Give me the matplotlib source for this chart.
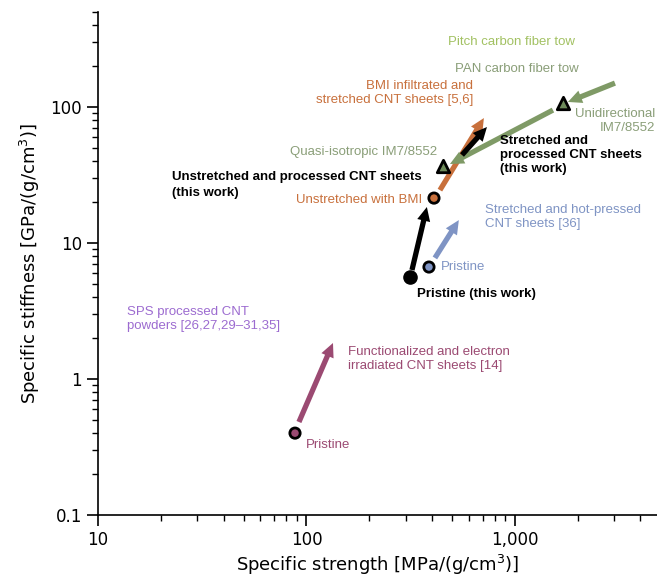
import matplotlib
matplotlib.use("Agg")
import matplotlib.pyplot as plt
from matplotlib.patches import FancyArrowPatch
from matplotlib.ticker import FuncFormatter, LogLocator, NullFormatter

# ---- data ----
# circles (pristine / start points)
circ_x = [313.6, 408.8, 386.8, 88.1]
circ_y = [5.62, 21.4, 6.66, 0.40]
circ_colors = ["#000000", "#C8703C", "#7F94C4", "#9B4A72"]

# triangles (IM7/8552 laminates)
tri_x = [1698, 451.6]
tri_y = [107, 36.8]

# arrows
arrow_x0 = [320.6, 436.5, 557, 413, 3017, 1521, 92]
arrow_y0 = [6.33, 24.5, 44.4, 7.77, 150, 95, 0.483]
arrow_x1 = [378, 709.5, 734, 538, 1795, 487.6, 134]
arrow_y1 = [18.4, 83, 71.3, 14.75, 109, 38.1, 1.84]
arrow_colors = ["#000000", "#C8703C", "#000000", "#7F94C4", "#7F9A66", "#7F9A66", "#9B4A72"]
arrow_order = [1, 0, 2, 0, 0, 0, 0]

fig = plt.figure(figsize=(6.57, 5.81), dpi=100)
ax = fig.add_axes([98/657, 66/581, 559/657, 503/581])
ax.set_xscale("log")
ax.set_yscale("log")
ax.set_xlim(10, 4800)
ax.set_ylim(0.1, 500)

for s in ["top", "right"]:
    ax.spines[s].set_visible(False)
for s in ["left", "bottom"]:
    ax.spines[s].set_linewidth(1.2)

ax.xaxis.set_major_locator(LogLocator(base=10, numticks=10))
ax.yaxis.set_major_locator(LogLocator(base=10, numticks=10))
ax.xaxis.set_minor_locator(LogLocator(base=10, subs=range(2, 10), numticks=20))
ax.yaxis.set_minor_locator(LogLocator(base=10, subs=range(2, 10), numticks=20))
ax.xaxis.set_minor_formatter(NullFormatter())
ax.yaxis.set_minor_formatter(NullFormatter())
ax.xaxis.set_major_formatter(FuncFormatter(lambda v, p: f"{v:,.0f}"))
ax.yaxis.set_major_formatter(FuncFormatter(lambda v, p: ("%g" % v)))
ax.tick_params(which="major", length=8, width=1.2, labelsize=12, direction="out")
ax.tick_params(which="minor", length=4, width=1.0, direction="out")

ax.set_xlabel("Specific strength [MPa/(g/cm$^3$)]", fontsize=13, labelpad=3)
ax.set_ylabel("Specific stiffness [GPa/(g/cm$^3$)]", fontsize=13, labelpad=6)

# arrows
for x0, y0, x1, y1, c, o in zip(arrow_x0, arrow_y0, arrow_x1, arrow_y1, arrow_colors, arrow_order):
    a = FancyArrowPatch((x0, y0), (x1, y1),
                        arrowstyle="simple,head_length=1.0,head_width=0.95,tail_width=0.38",
                        mutation_scale=10, color=c, lw=0, shrinkA=0, shrinkB=0,
                        zorder=3 + o)
    ax.add_patch(a)

# markers
ax.scatter(circ_x[:1], circ_y[:1], s=90, c=circ_colors[:1], edgecolors="black", linewidths=1, zorder=6)
ax.scatter(circ_x[1:], circ_y[1:], s=55, c=circ_colors[1:], edgecolors="black", linewidths=2, zorder=6)
ax.scatter(tri_x, tri_y, s=80, marker="^", c="#6D8B5A", edgecolors="black", linewidths=2, zorder=6)

fam = ["Liberation Sans", "DejaVu Sans"]
fs = 9.5
def t(px, py, s, color, ha="left", bold=False, ls=1.2):
    fig.text(px/657, 1 - py/581, s, color=color, ha=ha, va="center", fontsize=fs,
             family=fam, fontweight="bold" if bold else "normal", linespacing=ls)

t(512, 42, "Pitch carbon fiber tow", "#A2C162", ha="center")
t(517, 69, "PAN carbon fiber tow", "#8A9E78", ha="center")
t(473, 93, "BMI infiltrated and\nstretched CNT sheets [5,6]", "#C8703C", ha="right")
t(655, 121, "Unidirectional\nIM7/8552", "#8A9E78", ha="right")
t(500, 155, "Stretched and\nprocessed CNT sheets\n(this work)", "#000000", bold=True)
t(437, 152, "Quasi-isotropic IM7/8552", "#8A9E78", ha="right")
t(172, 177, "Unstretched and processed CNT sheets", "#000000", bold=True)
t(172, 193, "(this work)", "#000000", bold=True)
t(422, 200, "Unstretched with BMI", "#C8703C", ha="right")
t(485, 217, "Stretched and hot-pressed\nCNT sheets [36]", "#7F94C4")
t(441, 267, "Pristine", "#7F94C4")
t(417, 294, "Pristine (this work)", "#000000", bold=True)
t(127, 319, "SPS processed CNT\npowders [26,27,29\u201331,35]", "#9C6BD0")
t(348, 359, "Functionalized and electron\nirradiated CNT sheets [14]", "#9B4A72")
t(306, 445, "Pristine", "#9B4A72")

fig.savefig("out.png", dpi=100)
